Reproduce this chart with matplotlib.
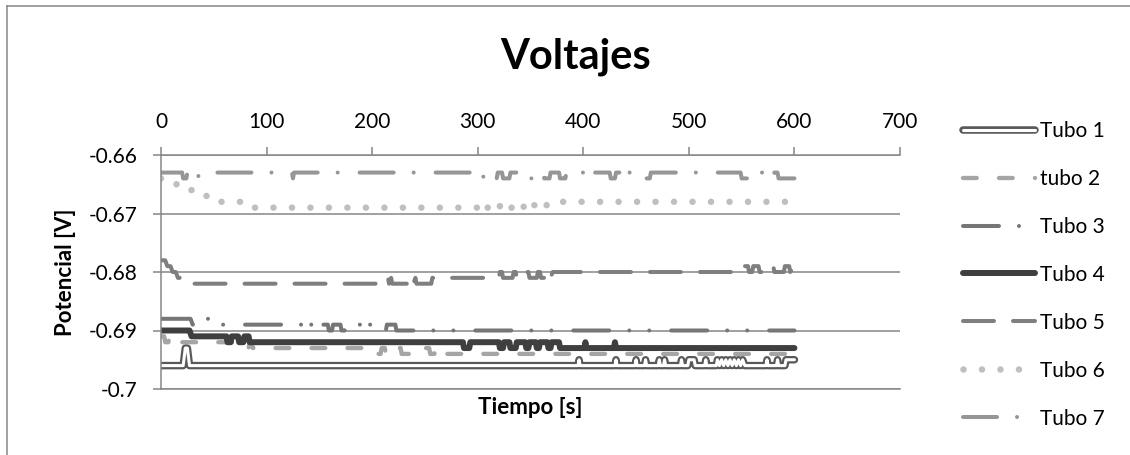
import matplotlib
matplotlib.use("Agg")
import matplotlib.pyplot as plt
from matplotlib.lines import Line2D

plt.rcParams["font.family"] = ["Lato", "DejaVu Sans"]
plt.rcParams["lines.scale_dashes"] = False

# Tiempo [s] / Potencial [V] (0.001 V resolution)
t1 = [0, 21, 23, 25, 27, 395, 396, 397, 430, 431, 432, 449, 450, 451, 458, 459, 460,
      471, 472, 473, 476, 477, 478, 492, 493, 494, 499, 500, 505, 506, 515, 516, 517,
      526, 527, 529, 531, 533, 535, 537, 539, 541, 543, 545, 547, 549, 551, 553,
      573, 574, 575, 583, 584, 585, 591, 592, 600]
v1 = [-0.696, -0.696, -0.693, -0.693, -0.696, -0.696, -0.695, -0.696, -0.696, -0.695, -0.696, -0.696, -0.695, -0.696, -0.696, -0.695, -0.696,
      -0.696, -0.695, -0.696, -0.696, -0.695, -0.696, -0.696, -0.695, -0.696, -0.696, -0.695, -0.695, -0.696, -0.696, -0.695, -0.696,
      -0.696, -0.695, -0.696, -0.695, -0.696, -0.695, -0.696, -0.695, -0.696, -0.695, -0.696, -0.695, -0.696, -0.695, -0.696,
      -0.696, -0.695, -0.696, -0.696, -0.695, -0.696, -0.696, -0.695, -0.695]

t2 = [0, 3, 4, 7, 8, 12, 13, 79, 80, 83, 84, 86, 87, 205, 206, 208, 209, 212, 213,
      224, 225, 227, 228, 250, 251, 254, 255, 259, 260, 262, 263, 600]
v2 = [-0.691, -0.691, -0.692, -0.692, -0.691, -0.691, -0.692, -0.692, -0.693, -0.693, -0.692, -0.692, -0.693, -0.693, -0.694, -0.694, -0.693, -0.693, -0.694,
      -0.694, -0.693, -0.693, -0.694, -0.694, -0.693, -0.693, -0.694, -0.694, -0.693, -0.693, -0.694, -0.694]

t3 = [0, 28, 30, 42, 43, 45, 46, 137, 138, 140, 141, 146, 147, 149, 150, 158, 159,
      162, 163, 170, 171, 174, 175, 190, 191, 193, 194, 210, 211, 213, 214, 222, 223, 600]
v3 = [-0.688, -0.688, -0.689, -0.689, -0.688, -0.688, -0.689, -0.689, -0.690, -0.690, -0.689, -0.689, -0.690, -0.690, -0.689, -0.689, -0.690,
      -0.690, -0.689, -0.689, -0.690, -0.690, -0.689, -0.689, -0.690, -0.690, -0.689, -0.689, -0.690, -0.690, -0.689, -0.689, -0.690, -0.690]

t4 = [0, 27, 29, 62, 63, 66, 67, 73, 74, 78, 79, 83, 84, 286, 287, 292, 293,
      320, 321, 324, 325, 330, 331, 336, 337, 345, 346, 348, 349, 355, 356, 358, 359,
      366, 367, 369, 370, 377, 378, 401, 402, 403, 429, 430, 431, 600]
v4 = [-0.690, -0.690, -0.691, -0.691, -0.692, -0.692, -0.691, -0.691, -0.692, -0.692, -0.691, -0.691, -0.692, -0.692, -0.693, -0.693, -0.692,
      -0.692, -0.693, -0.693, -0.692, -0.692, -0.693, -0.693, -0.692, -0.692, -0.693, -0.693, -0.692, -0.692, -0.693, -0.693, -0.692,
      -0.692, -0.693, -0.693, -0.692, -0.692, -0.693, -0.693, -0.692, -0.693, -0.693, -0.692, -0.693, -0.693]

t5 = [0, 4, 6, 9, 11, 14, 16, 19, 21, 212, 213, 215, 216, 218, 219, 235, 236, 238, 239,
      241, 242, 256, 257, 320, 321, 323, 324, 333, 334, 336, 337, 345, 346, 348, 349,
      356, 357, 359, 360, 366, 367, 369, 371, 552, 553, 556, 557, 560, 561, 566, 567,
      575, 576, 580, 581, 590, 591, 595, 596, 600]
v5 = [-0.678, -0.678, -0.679, -0.679, -0.680, -0.680, -0.681, -0.681, -0.682, -0.682, -0.681, -0.681, -0.682, -0.681, -0.682, -0.682, -0.681, -0.681, -0.682,
      -0.681, -0.682, -0.682, -0.681, -0.681, -0.680, -0.680, -0.681, -0.681, -0.680, -0.680, -0.681, -0.681, -0.680, -0.680, -0.681,
      -0.681, -0.680, -0.680, -0.681, -0.681, -0.680, -0.681, -0.680, -0.680, -0.679, -0.679, -0.680, -0.680, -0.679, -0.679, -0.680,
      -0.680, -0.679, -0.679, -0.680, -0.680, -0.679, -0.679, -0.680, -0.679]

t6 = [0, 4, 15, 18, 30, 33, 48, 51, 84, 87, 300, 303, 305, 316, 318, 322, 326, 330,
      338, 341, 344, 348, 352, 356, 360, 364, 367, 600]
v6 = [-0.664, -0.665, -0.665, -0.666, -0.666, -0.667, -0.667, -0.668, -0.668, -0.669, -0.669, -0.668, -0.669, -0.669, -0.668, -0.669, -0.668, -0.669,
      -0.669, -0.668, -0.669, -0.668, -0.669, -0.668, -0.669, -0.669, -0.668, -0.668]

t7 = [0, 20, 21, 24, 25, 34, 35, 36, 124, 125, 126, 300, 301, 305, 306, 309, 310,
      318, 319, 323, 324, 330, 331, 345, 346, 352, 353, 362, 363, 368, 369, 377, 378,
      383, 384, 400, 401, 408, 409, 425, 426, 430, 431, 437, 438, 441, 442, 458, 459,
      463, 464, 549, 550, 566, 567, 570, 571, 580, 581, 584, 585, 600]
v7 = [-0.663, -0.663, -0.664, -0.664, -0.663, -0.663, -0.664, -0.663, -0.663, -0.664, -0.663, -0.663, -0.664, -0.664, -0.663, -0.663, -0.664,
      -0.664, -0.663, -0.663, -0.664, -0.664, -0.663, -0.663, -0.664, -0.664, -0.663, -0.663, -0.664, -0.664, -0.663, -0.663, -0.664,
      -0.664, -0.663, -0.663, -0.664, -0.664, -0.663, -0.663, -0.664, -0.664, -0.663, -0.663, -0.664, -0.664, -0.663, -0.663, -0.664,
      -0.664, -0.663, -0.663, -0.664, -0.664, -0.663, -0.663, -0.664, -0.664, -0.663, -0.663, -0.664, -0.664]

labels = ["Tubo 1", "tubo 2", "Tubo 3", "Tubo 4", "Tubo 5", "Tubo 6", "Tubo 7"]
x_ticks = [0, 100, 200, 300, 400, 500, 600, 700]
y_ticks = [-0.70, -0.69, -0.68, -0.67, -0.66]
y_tick_labels = ["-0.7", "-0.69", "-0.68", "-0.67", "-0.66"]

grey = "#868686"

fig = plt.figure(figsize=(11.3, 4.55), dpi=100)
ax = fig.add_axes([161 / 1130, 1 - 389 / 455, 739 / 1130, 234 / 455])

common = dict(dash_capstyle="round", solid_capstyle="round", solid_joinstyle="round", dash_joinstyle="round")

# Tubo 1: double line (dark outline, white core)
l1a, = ax.plot(t1, v1, color="#595959", lw=5.4, **common)
l1b, = ax.plot(t1, v1, color="white", lw=2.2, **common)
l2, = ax.plot(t2, v2, color="#A5A5A5", lw=3.1, ls=(0, (9.9, 16)), **common)
l3, = ax.plot(t3, v3, color="#767676", lw=2.9, ls=(0, (25.9, 14.4, 0.01, 14.4, 0.01, 15.8)), **common)
l4, = ax.plot(t4, v4, color="#3F3F3F", lw=4.3, **common)
l5, = ax.plot(t5, v5, color="#7F7F7F", lw=2.9, ls=(0, (22.3, 13.7)), **common)
l6, = ax.plot(t6, v6, color="#BFBFBF", lw=4.7, ls=(0, (0.01, 13.3)), **common)
l7, = ax.plot(t7, v7, color="#969696", lw=2.9, ls=(0, (24.5, 14.4, 0.01, 15.8)), **common)

ax.set_xlim(0, 700)
ax.set_ylim(-0.70, -0.66)
ax.set_xticks(x_ticks)
ax.set_yticks(y_ticks)
ax.set_yticklabels(y_tick_labels)
ax.xaxis.tick_top()
ax.tick_params(axis="x", direction="out", length=5.8, width=1.1, color=grey,
               labelsize=15, pad=10.5, bottom=False, top=True)
ax.tick_params(axis="y", direction="out", length=5.8, width=1.1, color=grey,
               labelsize=15, pad=11)
ax.yaxis.grid(True, color=grey, lw=1.1)
ax.set_axisbelow(True)
for side in ["left", "top", "bottom"]:
    ax.spines[side].set_color(grey)
    ax.spines[side].set_linewidth(1.1)
ax.spines["right"].set_visible(False)

ax.xaxis.set_label_position("bottom")
ax.set_xlabel("Tiempo [s]", fontsize=16, fontweight="bold", labelpad=6)
ax.set_ylabel("Potencial [V]", fontsize=16, fontweight="bold", labelpad=9)

fig.text(576 / 1130, 1 - 57 / 455, "Voltajes", ha="center", va="center",
         fontsize=30, fontweight="bold")

handles = [(l1a, l1b), l2, l3, l4, l5, l6, l7]
ax.legend(handles, labels, loc="upper left", bbox_to_anchor=(963 / 1130, 1 - 121 / 455),
          bbox_transform=fig.transFigure, frameon=False, fontsize=15,
          handlelength=3.46, handletextpad=0.25, labelspacing=1.34,
          borderpad=0, borderaxespad=0)

# chart-area border (left and top visible)
fig.add_artist(Line2D([7 / 1130, 7 / 1130], [0, 1 - 6 / 455], transform=fig.transFigure,
                      color=grey, lw=1.1))
fig.add_artist(Line2D([7 / 1130, 1], [1 - 6 / 455, 1 - 6 / 455], transform=fig.transFigure,
                      color=grey, lw=1.1))

fig.savefig("out.png", dpi=100)
